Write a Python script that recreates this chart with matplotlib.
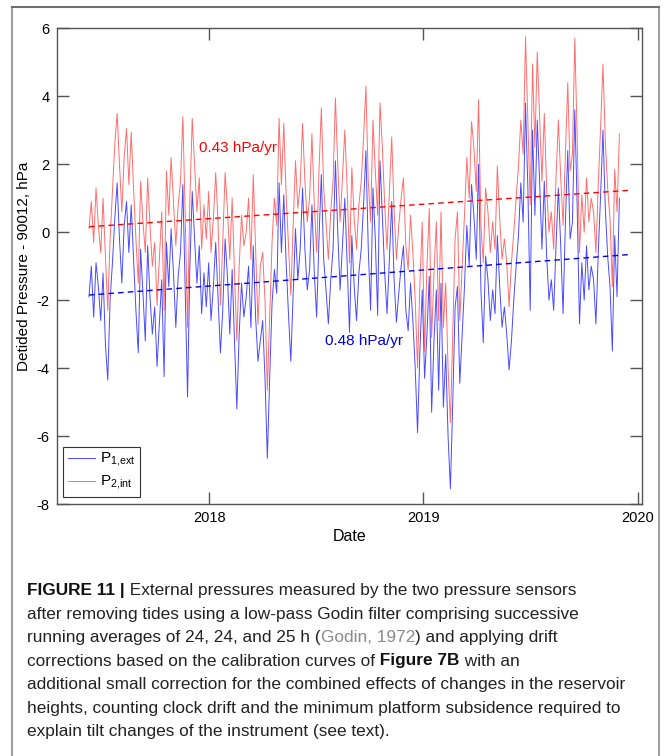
import pandas as pd
import matplotlib
matplotlib.use('Agg')
import matplotlib.pyplot as plt
import matplotlib.dates as mdates
from matplotlib.lines import Line2D

plt.rcParams['font.family'] = ['Liberation Sans', 'DejaVu Sans']
plt.rcParams['axes.unicode_minus'] = False

# detided pressure series, one value every 4 days from 2017-06-10
start_date = '2017-06-10'
p2_int = [0.1, 0.9, -0.3, 1.3, 0.2, -0.6, 1.0, -0.7, -2.3, -0.2,
          1.2, 2.6, 3.5, 2.0, 0.6, 2.2, 3.05, 1.4, 2.95, 1.3,
          -0.2, -1.5, 1.5, 0.3, -0.6, 1.6, 0.2, -1.0, -0.3, -2.15,
          -0.8, 0.6, -2.3, 1.8, 0.5, 2.2, 0.9, -0.4, 0.8, 1.5,
          3.4, 0.5, -2.8, 1.0, 3.35, 2.0, 0.6, 1.6, -0.5, 0.8,
          -0.2, 1.2, -0.6, 0.4, 1.75, 0.3, -2.15, -0.3, 1.75, 0.7,
          -0.8, 1.0, -1.2, -3.2, -1.0, 0.5, -0.4, 0.0, 1.0, -0.8,
          1.7, -0.5, -2.7, -1.0, -0.6, -2.0, -4.65, -2.5, -0.3, 1.0,
          0.2, 3.35, 1.4, 3.2, 1.1, -0.4, -1.85, 0.2, 2.1, 0.7,
          1.4, 3.2, 1.5, 0.3, 1.0, 2.9, 0.8, -0.6, 1.8, 3.65,
          1.3, 0.3, -0.8, 0.6, 1.5, 3.95, 2.0, 0.3, 1.6, 3.0,
          1.3, -0.9, 1.9, 0.4, -0.5, 0.8, 1.5, 2.8, 4.3, 1.5,
          0.3, 3.3, 1.8, 0.5, 3.8, 2.5, 0.8, -0.5, 1.2, 2.8,
          0.65, -0.8, 0.2, 1.0, 1.6, -0.4, -1.1, 0.5, -0.6, -2.0,
          -4.0, -1.5, 0.3, -3.5, -1.0, 0.7, -3.1, -1.2, 0.3, -2.6,
          0.6, -2.8, -1.5, -4.0, -5.6, -3.0, -0.2, 0.6, -2.6, -1.0,
          0.5, 2.2, 1.0, 3.25, 2.5, 1.2, 3.9, 0.2, -0.9, 1.3,
          0.6, -0.6, 0.3, -0.5, 1.95, 0.4, -0.8, -0.2, -0.9, -2.2,
          -0.9, 0.0, 1.0, 1.95, 3.3, 2.3, 5.75, 3.3, 0.8, 4.95,
          2.5, 5.3, 3.4, 1.5, 3.5, 1.3, 0.0, 0.6, -0.5, 1.6,
          3.3, 1.6, 0.2, 2.3, 4.4, 1.8, 2.3, 5.7, 2.8, -0.6,
          1.1, 0.0, 1.6, 0.3, 1.0, 0.6, -0.6, 1.4, 3.1, 4.95,
          2.7, 1.3, 0.4, -1.6, 1.85, 0.6, 2.9]
p1_ext = [-1.9, -1.0, -2.5, -0.9, -1.6, -2.6, -1.2, -3.3, -4.35, -2.0,
          -0.9, 0.4, 1.45, -0.2, -1.5, 0.2, 0.9, -0.6, 0.8, -0.8,
          -2.3, -3.55, -0.5, -1.8, -3.2, -0.4, -1.9, -3.0, -2.2, -3.95,
          -2.7, -1.4, -4.25, -0.3, -1.6, 0.1, -1.2, -2.8, -1.3, -0.6,
          1.4, -1.8, -4.85, -1.0, 1.2, -0.2, -1.5, -0.4, -2.4, -1.2,
          -2.2, -0.9, -2.6, -1.6, -0.3, -1.9, -3.55, -2.3, -0.2, -1.3,
          -3.0, -1.1, -3.2, -5.2, -3.0, -1.5, -2.5, -1.9, -1.0, -2.8,
          -0.4, -2.5, -3.8, -3.2, -2.6, -4.3, -6.65, -4.3, -2.1, -1.1,
          -1.8, 1.45, -0.6, 1.1, -0.9, -2.4, -3.8, -1.8, 0.1, -1.4,
          -0.5, 1.3, -0.5, -1.7, -1.1, 0.8, -1.2, -2.5, -0.2, 1.7,
          -0.8, -1.7, -2.7, -1.4, -0.5, 2.1, 0.0, -1.7, -0.4, 1.0,
          -0.9, -2.95, -0.1, -1.6, -2.6, -1.2, -0.5, 0.8, 2.4, -0.5,
          -2.3, 1.3, -0.2, -2.45, 2.1, 0.5, -1.2, -2.4, -0.8, 0.9,
          -1.4, -2.65, -1.8, -1.0, -0.4, -2.3, -2.9, -1.5, -2.6, -4.0,
          -5.9, -3.5, -1.7, -4.3, -3.0, -1.3, -5.3, -3.2, -1.7, -4.65,
          -1.5, -5.15, -3.6, -6.0, -7.55, -5.0, -2.2, -1.6, -4.45, -3.0,
          -1.6, 0.2, -1.0, 1.4, 0.5, -0.8, 2.0, -1.7, -3.25, -0.7,
          -1.4, -2.6, -1.7, -2.4, -0.1, -1.6, -2.8, -2.2, -3.0, -4.05,
          -3.2, -2.0, -1.0, -0.1, 1.45, 0.3, 3.8, 1.3, -2.3, 3.0,
          0.5, 3.3, 1.5, -0.5, 1.5, -0.7, -2.0, -1.4, -2.3, -0.4,
          1.3, -0.4, -2.4, 0.3, 2.4, -0.2, 0.3, 3.6, 0.8, -2.7,
          -0.9, -2.0, -0.4, -1.7, -1.0, -1.4, -2.7, -0.6, 1.1, 3.0,
          0.7, -0.7, -1.6, -3.5, -0.1, -1.9, 1.0]

# linear drift fits
trend_dates = ['2017-06-10', '2019-12-17']
p2_trend = [0.16, 1.23]
p1_trend = [-1.85, -0.66]

year_ticks = ['2018-01-01', '2019-01-01', '2020-01-01']
y_ticks = [-8, -6, -4, -2, 0, 2, 4, 6]

caption = [
    [("FIGURE 11 |", 'bold', '#111111'),
     (" External pressures measured by the two pressure sensors", 'normal', '#222222')],
    [("after removing tides using a low-pass Godin filter comprising successive", 'normal', '#222222')],
    [("running averages of 24, 24, and 25 h (", 'normal', '#222222'),
     ("Godin, 1972", 'normal', '#8a8a8a'),
     (") and applying drift", 'normal', '#222222')],
    [("corrections based on the calibration curves of", 'normal', '#222222'),
     (" Figure 7B", 'bold', '#111111'),
     (" with an", 'normal', '#222222')],
    [("additional small correction for the combined effects of changes in the reservoir", 'normal', '#222222')],
    [("heights, counting clock drift and the minimum platform subsidence required to", 'normal', '#222222')],
    [("explain tilt changes of the instrument (see text).", 'normal', '#222222')],
]

dates = pd.date_range(start_date, periods=len(p2_int), freq='4D')
tdates = pd.to_datetime(trend_dates)

fig = plt.figure(figsize=(6.64, 7.56), dpi=100)
ax = fig.add_axes([0.0854, 0.3333, 0.881, 0.6293])

l1, = ax.plot(dates, p1_ext, color='#2a2aff', lw=0.7, alpha=0.85)
l2, = ax.plot(dates, p2_int, color='#ff3030', lw=0.7, alpha=0.7)
ax.plot(tdates, p2_trend, '--', color='#ff0000', lw=1.0, dashes=(4, 3))
ax.plot(tdates, p1_trend, '--', color='#0000ee', lw=1.0, dashes=(4, 3))

ax.text(pd.Timestamp('2017-12-14'), 2.47, '0.43 hPa/yr', color='#ff0000',
        fontsize=11, va='center', ha='left')
ax.text(pd.Timestamp('2018-07-17'), -3.2, '0.48 hPa/yr', color='#0000dd',
        fontsize=11, va='center', ha='left')

ax.set_xlim(pd.Timestamp('2017-04-16'), pd.Timestamp('2020-01-08'))
ax.set_ylim(-8, 6)
ax.set_xticks(pd.to_datetime(year_ticks))
ax.xaxis.set_major_formatter(mdates.DateFormatter('%Y'))
ax.set_yticks(y_ticks)
ax.tick_params(direction='in', top=True, right=True, length=8.5, width=1,
               color='#555555', labelsize=10.5, pad=5)
for s in ax.spines.values():
    s.set_color('#555555')
    s.set_linewidth(1.0)
ax.set_xlabel('Date', fontsize=11.5, labelpad=3)
ax.set_ylabel('Detided Pressure - 90012, hPa', fontsize=11, labelpad=4)

leg = ax.legend([l1, l2], [r'P$_{\mathregular{1,\!ext}}$', r'P$_{\mathregular{2,\!int}}$'],
                loc='lower left', bbox_to_anchor=(0.011, 0.015), borderaxespad=0,
                fancybox=False, framealpha=1, edgecolor='#333333', fontsize=11,
                handlelength=1.8, labelspacing=0.3, borderpad=0.3, handletextpad=0.3)
leg.get_frame().set_linewidth(0.8)

# outer frame of the figure panel
for xs, ys, c in [([0.018, 0.018], [0.0, 0.991], '#a0a0a0'),
                  ([0.9925, 0.9925], [0.0, 0.991], '#a0a0a0'),
                  ([0.018, 0.9925], [0.991, 0.991], '#707070')]:
    fig.add_artist(Line2D(xs, ys, transform=fig.transFigure, color=c, lw=1.5))

# caption, one line at a time, styled pieces chained together
cap = fig.add_axes([0, 0, 1, 1])
cap.axis('off')
y0 = 1 - 595 / 756.0
dy = 23.5 / 756.0
for k, line in enumerate(caption):
    prev = None
    for txt, weight, col in line:
        if prev is None:
            prev = cap.text(0.041, y0 - k * dy, txt, fontsize=12.4, fontweight=weight,
                            color=col, va='baseline', ha='left', transform=fig.transFigure)
        else:
            prev = cap.annotate(txt, xy=(1, 0), xycoords=prev, fontsize=12.4,
                                fontweight=weight, color=col, va='bottom', ha='left')

fig.savefig('out.png', dpi=100)
